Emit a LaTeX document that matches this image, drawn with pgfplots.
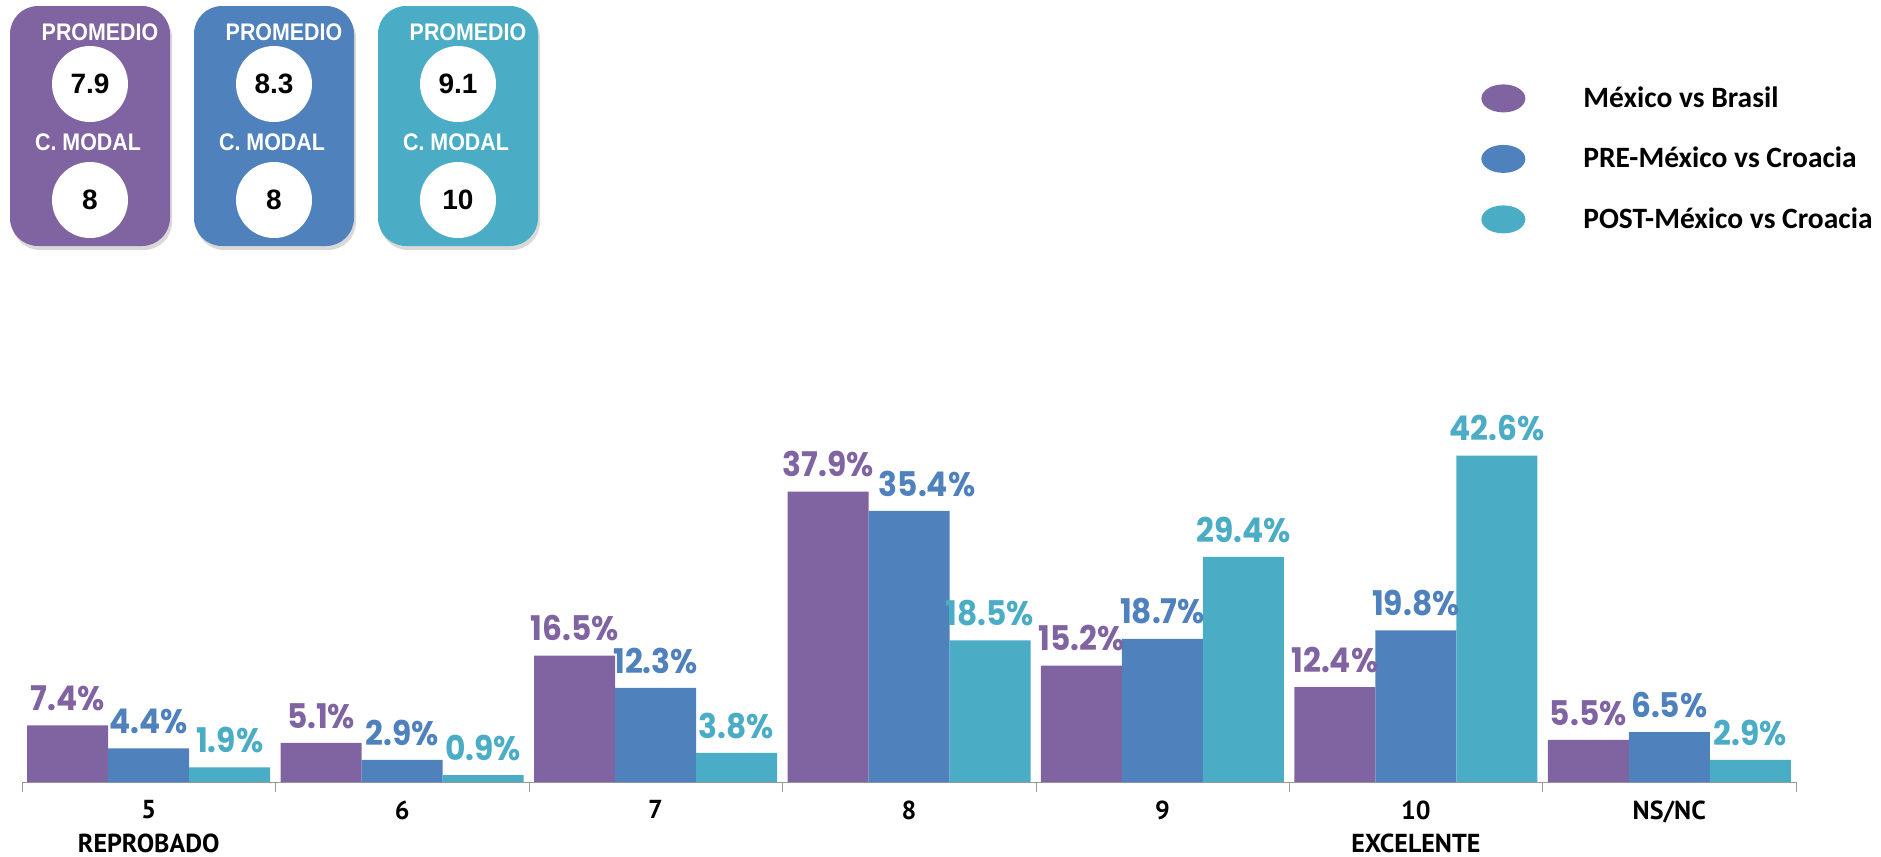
\documentclass[border=0pt]{standalone}
\usepackage{fontspec}
\setmainfont{Liberation Sans}
\newfontfamily\pctfont{Poppins}
\newfontfamily\tickfont{PT Sans}
\newfontfamily\legfont{Carlito}
\usepackage{graphicx}
\usepackage{pgfplots}
\pgfplotsset{compat=1.18}
\usetikzlibrary{shadows}
\definecolor{cpur}{HTML}{8064A2}
\definecolor{cblu}{HTML}{4F81BD}
\definecolor{ccya}{HTML}{4BACC6}
\pgfplotsset{ybar legend/.style={legend image code/.code={\fill[##1, draw=none] (11pt,0pt) ellipse [x radius=11pt, y radius=7pt]; \path[fill=none, draw=none] (0,-7pt) rectangle (50pt,7pt);}}}
\begin{document}
\begin{tikzpicture}
\useasboundingbox (0,-428.5pt) rectangle (940.5pt,0);
% summary boxes
\foreach \i/\col/\p/\m in {0/cpur/7.9/8, 1/cblu/8.3/8, 2/ccya/9.1/10} {
  \begin{scope}[xshift=\i*92pt]
    \fill[\col, rounded corners=14pt, drop shadow={opacity=0.3, shadow xshift=1pt, shadow yshift=-2pt}] (5pt,-3pt) rectangle (85pt,-123pt);
    \node[white, font=\bfseries\fontsize{10.7}{12}\selectfont] at (50pt,-16pt) {\scalebox{1}[1.12]{PROMEDIO}};
    \fill[white] (45pt,-42pt) circle (19pt);
    \node[black, font=\bfseries\fontsize{14}{16}\selectfont] at (45pt,-42pt) {\p};
    \node[white, font=\bfseries\fontsize{10.7}{12}\selectfont] at (44pt,-71pt) {\scalebox{1}[1.12]{C. MODAL}};
    \fill[white] (45pt,-100pt) circle (19pt);
    \node[black, font=\bfseries\fontsize{14}{16}\selectfont] at (45pt,-100pt) {\m};
  \end{scope}
}
\begin{axis}[
  at={(11pt,-391pt)}, anchor=south west,
  scale only axis, width=887pt, height=191.5pt,
  ybar=0pt, bar width=40.5pt,
  ymin=0, ymax=50, xmin=-0.5, xmax=6.5,
  axis y line=none, axis x line*=bottom,
  x axis line style={-, draw=gray!80},
  xtick={0,...,6},
  xticklabels={{5\\[1.8pt]REPROBADO},6,7,8,9,{10\\[1.8pt]EXCELENTE},NS/NC},
  xticklabel style={align=center, font=\tickfont\bfseries\fontsize{13}{15}\selectfont, inner sep=0pt, yshift=-9.1pt},
  major tick length=0pt,
  minor xtick={-0.5,0.5,...,6.5},
  minor tick length=5pt,
  tick align=outside,
  minor x tick style={draw=gray!80},
  major x tick style={draw=none},
  clip=false,
  visualization depends on={x \as \xv},
  nodes near coords={\scalebox{0.92}[1]{\pgfmathprintnumber[fixed,fixed zerofill,precision=1,assume math mode=true]{\pgfplotspointmeta}\%}},
  every node near coord/.append style={font=\pctfont\bfseries\fontsize{17}{19}\selectfont, inner sep=3pt, yshift=4pt},
  legend style={at={(0.8224,1.8225)}, anchor=north west, draw=none, fill=none, inner sep=0pt, row sep=16.25pt,
    font=\legfont\bfseries\fontsize{14.75}{16}\selectfont, nodes={inner sep=1pt}},
  legend cell align=left,
]
\addplot[fill=cpur, draw=none, every node near coord/.append style={text=cpur}] coordinates {(0,7.4) (1,5.1) (2,16.5) (3,37.9) (4,15.2) (5,12.4) (6,5.5)};
\addplot[fill=cblu, draw=none, every node near coord/.append style={text=cblu, xshift={(\xv==3)*9pt}}] coordinates {(0,4.4) (1,2.9) (2,12.3) (3,35.4) (4,18.7) (5,19.8) (6,6.5)};
\addplot[fill=ccya, draw=none, every node near coord/.append style={text=ccya}] coordinates {(0,1.9) (1,0.9) (2,3.8) (3,18.5) (4,29.4) (5,42.6) (6,2.9)};
\legend{México vs Brasil, PRE-México vs Croacia, POST-México vs Croacia}
\end{axis}
\end{tikzpicture}
\end{document}
